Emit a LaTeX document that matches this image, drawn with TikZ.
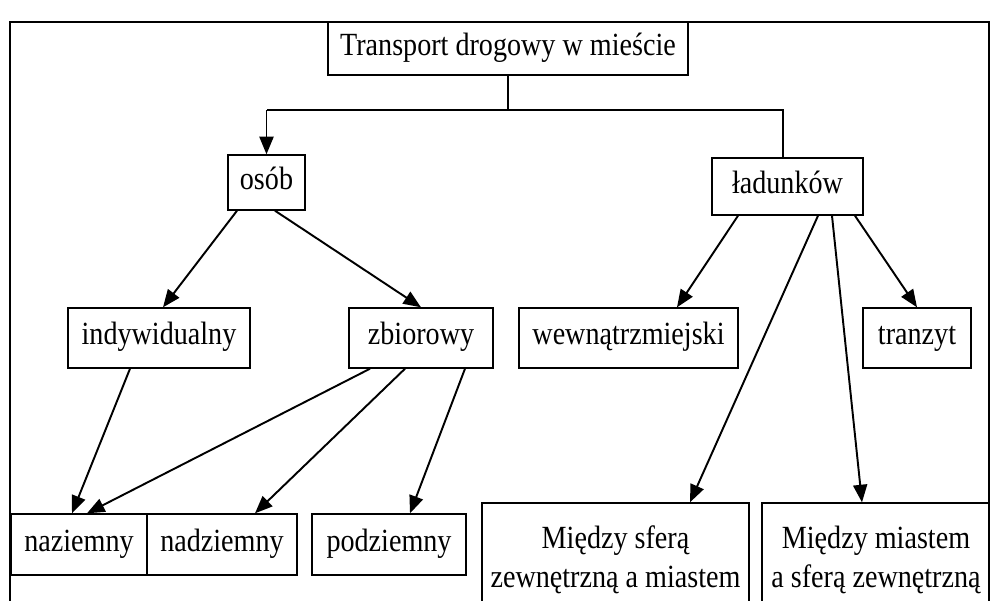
\documentclass[tikz,border=0pt]{standalone}
\usepackage{fontspec}
\setmainfont[FakeStretch=0.87]{Liberation Serif}
\usetikzlibrary{arrows.meta}

\tikzset{
  blok/.style 2 args={draw, line width=0.8pt, inner sep=0pt, align=center,
    minimum width=#1*0.02cm, minimum height=#2*0.02cm,
    font=\fontsize{18.4}{22}\selectfont},
  jeden/.style={text height=2.3ex, text depth=0.6ex},
  strz/.style={line width=1.1pt, -{Triangle[length=10pt,width=8pt]}},
  linia/.style={line width=0.8pt}
}

\begin{document}
\begin{tikzpicture}[x=0.02cm, y=-0.02cm]

\useasboundingbox (0,0) rectangle (990,600);
\clip (0,0) rectangle (990,600);

\draw[linia] (10,640) -- (10,22) -- (989,22) -- (989,640);

% poziom 1
\node[blok={360}{53}, jeden] (transport) at (508,48.5) {Transport drogowy w mieście};

% poziom 2
\node[blok={77}{55}, jeden] (osob) at (266.5,182.5) {osób};
\node[blok={151}{57}, jeden] (ladunki) at (787.5,186.5) {ładunków};

% poziom 3
\node[blok={182}{60}, jeden] (indyw) at (159,338) {indywidualny};
\node[blok={144}{60}, jeden] (zbior) at (421,338) {zbiorowy};
\node[blok={219}{60}, jeden] (wewn) at (628.5,338) {wewnątrzmiejski};
\node[blok={108}{60}, jeden] (tranzyt) at (917,338) {tranzyt};

% poziom 4
\node[blok={136}{61}, jeden] (naz) at (79,544.5) {naziemny};
\node[blok={150}{61}, jeden] (nadz) at (222,544.5) {nadziemny};
\node[blok={154}{61}, jeden] (podz) at (389,544.5) {podziemny};
\node[blok={267}{114}] (sfera1) at (615.5,560) {Między sferą\\zewnętrzną a miastem};
\node[blok={228}{114}] (sfera2) at (876,560) {Między miastem\\a sferą zewnętrzną};

% rozgalezienie
\coordinate (poz) at (0,110);
\draw[linia] (transport.south) -- (transport.south |- poz);
\draw[linia] ([xshift=-0.09cm]ladunki.north) -- ([xshift=-0.09cm]ladunki.north |- poz) -- (osob.north |- poz);
\draw[strz] (osob.north |- poz) -- (osob.north);

% osob
\draw[strz] ([xshift=-0.59cm]osob.south) -- ([xshift=0.08cm]indyw.north);
\draw[strz] ([xshift=0.17cm]osob.south) -- (zbior.north);
\draw[strz] ([xshift=-0.58cm]indyw.south) -- ([xshift=-0.14cm]naz.north);
\draw[strz] ([xshift=-1.02cm]zbior.south) -- ([xshift=0.16cm]naz.north);
\draw[strz] ([xshift=-0.32cm]zbior.south) -- ([xshift=0.66cm]nadz.north);
\draw[strz] ([xshift=0.88cm]zbior.south) -- ([xshift=0.42cm]podz.north);

% ladunki
\draw[strz] ([xshift=-0.99cm]ladunki.south) -- ([xshift=0.97cm]wewn.north);
\draw[strz] ([xshift=0.61cm]ladunki.south) -- ([xshift=1.49cm]sfera1.north);
\draw[strz] ([xshift=0.89cm]ladunki.south) -- ([xshift=-0.28cm]sfera2.north);
\draw[strz] ([xshift=1.35cm]ladunki.south) -- (tranzyt.north);

\end{tikzpicture}
\end{document}
